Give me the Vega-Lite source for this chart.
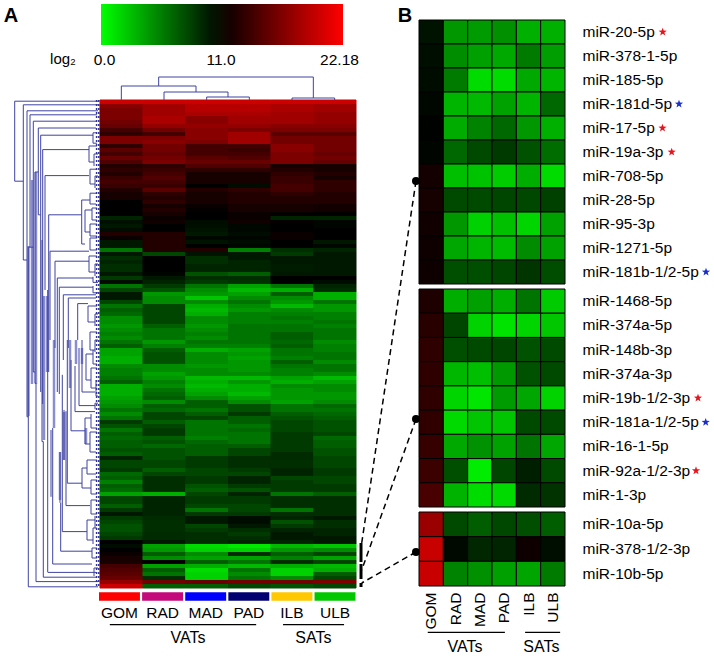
{"$schema":"https://vega.github.io/schema/vega-lite/v6.json","width":714,"height":657,"padding":0,"autosize":{"type":"none"},"background":"white","config":{"view":{"stroke":null},"font":"Liberation Sans","axis":{"grid":false,"domain":false,"ticks":false,"title":null,"labelFont":"Liberation Sans","labelColor":"#000"},"legend":{"labelFont":"Liberation Sans"},"text":{"font":"Liberation Sans"}},
"datasets":{
"heat":[
{"r":0,"t":"GOM","v":20},{"r":0,"t":"RAD","v":20},{"r":0,"t":"MAD","v":20},{"r":0,"t":"PAD","v":20},{"r":0,"t":"ILB","v":20},{"r":0,"t":"ULB","v":20},
{"r":1,"t":"GOM","v":17},{"r":1,"t":"RAD","v":18},{"r":1,"t":"MAD","v":19},{"r":1,"t":"PAD","v":19},{"r":1,"t":"ILB","v":18.5},{"r":1,"t":"ULB","v":18},
{"r":2,"t":"GOM","v":16.5},{"r":2,"t":"RAD","v":18},{"r":2,"t":"MAD","v":19},{"r":2,"t":"PAD","v":19},{"r":2,"t":"ILB","v":18.5},{"r":2,"t":"ULB","v":18},
{"r":3,"t":"GOM","v":16.5},{"r":3,"t":"RAD","v":18},{"r":3,"t":"MAD","v":18.5},{"r":3,"t":"PAD","v":18.5},{"r":3,"t":"ILB","v":18},{"r":3,"t":"ULB","v":17.5},
{"r":4,"t":"GOM","v":16.5},{"r":4,"t":"RAD","v":18.5},{"r":4,"t":"MAD","v":17},{"r":4,"t":"PAD","v":18},{"r":4,"t":"ILB","v":18},{"r":4,"t":"ULB","v":17.5},
{"r":5,"t":"GOM","v":16},{"r":5,"t":"RAD","v":18.5},{"r":5,"t":"MAD","v":17},{"r":5,"t":"PAD","v":18},{"r":5,"t":"ILB","v":18},{"r":5,"t":"ULB","v":17.5},
{"r":6,"t":"GOM","v":15.5},{"r":6,"t":"RAD","v":17.5},{"r":6,"t":"MAD","v":17.5},{"r":6,"t":"PAD","v":17.5},{"r":6,"t":"ILB","v":17},{"r":6,"t":"ULB","v":17},
{"r":7,"t":"GOM","v":14},{"r":7,"t":"RAD","v":16},{"r":7,"t":"MAD","v":17},{"r":7,"t":"PAD","v":16.5},{"r":7,"t":"ILB","v":16.5},{"r":7,"t":"ULB","v":16.5},
{"r":8,"t":"GOM","v":13},{"r":8,"t":"RAD","v":14},{"r":8,"t":"MAD","v":17},{"r":8,"t":"PAD","v":18},{"r":8,"t":"ILB","v":15},{"r":8,"t":"ULB","v":15},
{"r":9,"t":"GOM","v":16.5},{"r":9,"t":"RAD","v":16.5},{"r":9,"t":"MAD","v":17},{"r":9,"t":"PAD","v":18},{"r":9,"t":"ILB","v":16},{"r":9,"t":"ULB","v":16},
{"r":10,"t":"GOM","v":16.5},{"r":10,"t":"RAD","v":17},{"r":10,"t":"MAD","v":16.5},{"r":10,"t":"PAD","v":18},{"r":10,"t":"ILB","v":16},{"r":10,"t":"ULB","v":16},
{"r":11,"t":"GOM","v":13},{"r":11,"t":"RAD","v":16},{"r":11,"t":"MAD","v":14},{"r":11,"t":"PAD","v":14},{"r":11,"t":"ILB","v":17},{"r":11,"t":"ULB","v":16},
{"r":12,"t":"GOM","v":15},{"r":12,"t":"RAD","v":16},{"r":12,"t":"MAD","v":14},{"r":12,"t":"PAD","v":13.5},{"r":12,"t":"ILB","v":17},{"r":12,"t":"ULB","v":16},
{"r":13,"t":"GOM","v":14},{"r":13,"t":"RAD","v":15.5},{"r":13,"t":"MAD","v":14},{"r":13,"t":"PAD","v":14},{"r":13,"t":"ILB","v":16.5},{"r":13,"t":"ULB","v":15.5},
{"r":14,"t":"GOM","v":15.5},{"r":14,"t":"RAD","v":16},{"r":14,"t":"MAD","v":15},{"r":14,"t":"PAD","v":14.5},{"r":14,"t":"ILB","v":16.5},{"r":14,"t":"ULB","v":16},
{"r":15,"t":"GOM","v":14.5},{"r":15,"t":"RAD","v":16.5},{"r":15,"t":"MAD","v":15.5},{"r":15,"t":"PAD","v":15.5},{"r":15,"t":"ILB","v":16.5},{"r":15,"t":"ULB","v":15.5},
{"r":16,"t":"GOM","v":12.5},{"r":16,"t":"RAD","v":13},{"r":16,"t":"MAD","v":14.5},{"r":16,"t":"PAD","v":14.5},{"r":16,"t":"ILB","v":12},{"r":16,"t":"ULB","v":12},
{"r":17,"t":"GOM","v":13},{"r":17,"t":"RAD","v":13.5},{"r":17,"t":"MAD","v":13},{"r":17,"t":"PAD","v":13},{"r":17,"t":"ILB","v":12.5},{"r":17,"t":"ULB","v":12},
{"r":18,"t":"GOM","v":12.5},{"r":18,"t":"RAD","v":14},{"r":18,"t":"MAD","v":12},{"r":18,"t":"PAD","v":12},{"r":18,"t":"ILB","v":13},{"r":18,"t":"ULB","v":12.5},
{"r":19,"t":"GOM","v":13.5},{"r":19,"t":"RAD","v":14.5},{"r":19,"t":"MAD","v":12},{"r":19,"t":"PAD","v":12},{"r":19,"t":"ILB","v":13.5},{"r":19,"t":"ULB","v":12},
{"r":20,"t":"GOM","v":14},{"r":20,"t":"RAD","v":14},{"r":20,"t":"MAD","v":12},{"r":20,"t":"PAD","v":12},{"r":20,"t":"ILB","v":13.5},{"r":20,"t":"ULB","v":13},
{"r":21,"t":"GOM","v":13.5},{"r":21,"t":"RAD","v":13.5},{"r":21,"t":"MAD","v":11},{"r":21,"t":"PAD","v":10.5},{"r":21,"t":"ILB","v":14},{"r":21,"t":"ULB","v":13},
{"r":22,"t":"GOM","v":12.5},{"r":22,"t":"RAD","v":15},{"r":22,"t":"MAD","v":12.5},{"r":22,"t":"PAD","v":13},{"r":22,"t":"ILB","v":14},{"r":22,"t":"ULB","v":13},
{"r":23,"t":"GOM","v":12},{"r":23,"t":"RAD","v":13},{"r":23,"t":"MAD","v":12},{"r":23,"t":"PAD","v":12.5},{"r":23,"t":"ILB","v":13},{"r":23,"t":"ULB","v":12.5},
{"r":24,"t":"GOM","v":12},{"r":24,"t":"RAD","v":12.5},{"r":24,"t":"MAD","v":12},{"r":24,"t":"PAD","v":12.5},{"r":24,"t":"ILB","v":12.5},{"r":24,"t":"ULB","v":12.5},
{"r":25,"t":"GOM","v":11},{"r":25,"t":"RAD","v":13},{"r":25,"t":"MAD","v":12},{"r":25,"t":"PAD","v":12.5},{"r":25,"t":"ILB","v":12.5},{"r":25,"t":"ULB","v":12.5},
{"r":26,"t":"GOM","v":11},{"r":26,"t":"RAD","v":12},{"r":26,"t":"MAD","v":11.5},{"r":26,"t":"PAD","v":12},{"r":26,"t":"ILB","v":12},{"r":26,"t":"ULB","v":11.8},
{"r":27,"t":"GOM","v":11},{"r":27,"t":"RAD","v":12.5},{"r":27,"t":"MAD","v":11.2},{"r":27,"t":"PAD","v":12},{"r":27,"t":"ILB","v":12},{"r":27,"t":"ULB","v":11.8},
{"r":28,"t":"GOM","v":11},{"r":28,"t":"RAD","v":12},{"r":28,"t":"MAD","v":11},{"r":28,"t":"PAD","v":11.5},{"r":28,"t":"ILB","v":11.2},{"r":28,"t":"ULB","v":11},
{"r":29,"t":"GOM","v":9.5},{"r":29,"t":"RAD","v":11.5},{"r":29,"t":"MAD","v":11},{"r":29,"t":"PAD","v":11.5},{"r":29,"t":"ILB","v":9.5},{"r":29,"t":"ULB","v":9.5},
{"r":30,"t":"GOM","v":10.3},{"r":30,"t":"RAD","v":11.7},{"r":30,"t":"MAD","v":10.5},{"r":30,"t":"PAD","v":11.7},{"r":30,"t":"ILB","v":11.2},{"r":30,"t":"ULB","v":10.8},
{"r":31,"t":"GOM","v":10},{"r":31,"t":"RAD","v":11},{"r":31,"t":"MAD","v":10.4},{"r":31,"t":"PAD","v":10.7},{"r":31,"t":"ILB","v":11},{"r":31,"t":"ULB","v":10.8},
{"r":32,"t":"GOM","v":10.5},{"r":32,"t":"RAD","v":11},{"r":32,"t":"MAD","v":10.2},{"r":32,"t":"PAD","v":10.7},{"r":32,"t":"ILB","v":11},{"r":32,"t":"ULB","v":11},
{"r":33,"t":"GOM","v":12.5},{"r":33,"t":"RAD","v":12.5},{"r":33,"t":"MAD","v":10},{"r":33,"t":"PAD","v":10.5},{"r":33,"t":"ILB","v":11.5},{"r":33,"t":"ULB","v":11},
{"r":34,"t":"GOM","v":11.5},{"r":34,"t":"RAD","v":12.5},{"r":34,"t":"MAD","v":10.7},{"r":34,"t":"PAD","v":10.8},{"r":34,"t":"ILB","v":11.5},{"r":34,"t":"ULB","v":11},
{"r":35,"t":"GOM","v":10},{"r":35,"t":"RAD","v":12.5},{"r":35,"t":"MAD","v":10.2},{"r":35,"t":"PAD","v":10.5},{"r":35,"t":"ILB","v":11},{"r":35,"t":"ULB","v":10},
{"r":36,"t":"GOM","v":10},{"r":36,"t":"RAD","v":12.5},{"r":36,"t":"MAD","v":11},{"r":36,"t":"PAD","v":10.7},{"r":36,"t":"ILB","v":11},{"r":36,"t":"ULB","v":10.7},
{"r":37,"t":"GOM","v":6},{"r":37,"t":"RAD","v":12.5},{"r":37,"t":"MAD","v":12.5},{"r":37,"t":"PAD","v":5.5},{"r":37,"t":"ILB","v":9},{"r":37,"t":"ULB","v":9.5},
{"r":38,"t":"GOM","v":10},{"r":38,"t":"RAD","v":8},{"r":38,"t":"MAD","v":10.2},{"r":38,"t":"PAD","v":10},{"r":38,"t":"ILB","v":8.5},{"r":38,"t":"ULB","v":10},
{"r":39,"t":"GOM","v":9},{"r":39,"t":"RAD","v":11},{"r":39,"t":"MAD","v":9},{"r":39,"t":"PAD","v":10},{"r":39,"t":"ILB","v":10},{"r":39,"t":"ULB","v":10},
{"r":40,"t":"GOM","v":9.5},{"r":40,"t":"RAD","v":11},{"r":40,"t":"MAD","v":9},{"r":40,"t":"PAD","v":9.5},{"r":40,"t":"ILB","v":10},{"r":40,"t":"ULB","v":10},
{"r":41,"t":"GOM","v":9},{"r":41,"t":"RAD","v":11},{"r":41,"t":"MAD","v":9.5},{"r":41,"t":"PAD","v":9.5},{"r":41,"t":"ILB","v":9.8},{"r":41,"t":"ULB","v":10},
{"r":42,"t":"GOM","v":9},{"r":42,"t":"RAD","v":11},{"r":42,"t":"MAD","v":9.5},{"r":42,"t":"PAD","v":9.5},{"r":42,"t":"ILB","v":9.8},{"r":42,"t":"ULB","v":10},
{"r":43,"t":"GOM","v":10},{"r":43,"t":"RAD","v":10.8},{"r":43,"t":"MAD","v":7.5},{"r":43,"t":"PAD","v":7},{"r":43,"t":"ILB","v":10},{"r":43,"t":"ULB","v":10},
{"r":44,"t":"GOM","v":8.5},{"r":44,"t":"RAD","v":10},{"r":44,"t":"MAD","v":9},{"r":44,"t":"PAD","v":9},{"r":44,"t":"ILB","v":11},{"r":44,"t":"ULB","v":11},
{"r":45,"t":"GOM","v":10.5},{"r":45,"t":"RAD","v":9.5},{"r":45,"t":"MAD","v":8.5},{"r":45,"t":"PAD","v":8.8},{"r":45,"t":"ILB","v":11},{"r":45,"t":"ULB","v":10.5},
{"r":46,"t":"GOM","v":6},{"r":46,"t":"RAD","v":8.5},{"r":46,"t":"MAD","v":6},{"r":46,"t":"PAD","v":4},{"r":46,"t":"ILB","v":6},{"r":46,"t":"ULB","v":9.5},
{"r":47,"t":"GOM","v":8},{"r":47,"t":"RAD","v":7.5},{"r":47,"t":"MAD","v":5},{"r":47,"t":"PAD","v":3},{"r":47,"t":"ILB","v":3.5},{"r":47,"t":"ULB","v":9.2},
{"r":48,"t":"GOM","v":10},{"r":48,"t":"RAD","v":4.5},{"r":48,"t":"MAD","v":4.5},{"r":48,"t":"PAD","v":4},{"r":48,"t":"ILB","v":7},{"r":48,"t":"ULB","v":3.5},
{"r":49,"t":"GOM","v":10},{"r":49,"t":"RAD","v":5},{"r":49,"t":"MAD","v":2.5},{"r":49,"t":"PAD","v":5},{"r":49,"t":"ILB","v":5},{"r":49,"t":"ULB","v":3.5},
{"r":50,"t":"GOM","v":8},{"r":50,"t":"RAD","v":5},{"r":50,"t":"MAD","v":5},{"r":50,"t":"PAD","v":6},{"r":50,"t":"ILB","v":4.5},{"r":50,"t":"ULB","v":6},
{"r":51,"t":"GOM","v":6},{"r":51,"t":"RAD","v":8},{"r":51,"t":"MAD","v":3.5},{"r":51,"t":"PAD","v":5},{"r":51,"t":"ILB","v":3},{"r":51,"t":"ULB","v":4.5},
{"r":52,"t":"GOM","v":7},{"r":52,"t":"RAD","v":8},{"r":52,"t":"MAD","v":3},{"r":52,"t":"PAD","v":4.5},{"r":52,"t":"ILB","v":5},{"r":52,"t":"ULB","v":4.5},
{"r":53,"t":"GOM","v":6.5},{"r":53,"t":"RAD","v":8},{"r":53,"t":"MAD","v":3.5},{"r":53,"t":"PAD","v":5.5},{"r":53,"t":"ILB","v":5.5},{"r":53,"t":"ULB","v":5.5},
{"r":54,"t":"GOM","v":5},{"r":54,"t":"RAD","v":8},{"r":54,"t":"MAD","v":5},{"r":54,"t":"PAD","v":5.5},{"r":54,"t":"ILB","v":6},{"r":54,"t":"ULB","v":5.5},
{"r":55,"t":"GOM","v":5},{"r":55,"t":"RAD","v":8},{"r":55,"t":"MAD","v":5},{"r":55,"t":"PAD","v":5.5},{"r":55,"t":"ILB","v":5.5},{"r":55,"t":"ULB","v":6},
{"r":56,"t":"GOM","v":4.5},{"r":56,"t":"RAD","v":7},{"r":56,"t":"MAD","v":4.5},{"r":56,"t":"PAD","v":6},{"r":56,"t":"ILB","v":6},{"r":56,"t":"ULB","v":5.5},
{"r":57,"t":"GOM","v":5},{"r":57,"t":"RAD","v":6},{"r":57,"t":"MAD","v":5},{"r":57,"t":"PAD","v":6},{"r":57,"t":"ILB","v":6},{"r":57,"t":"ULB","v":6},
{"r":58,"t":"GOM","v":5.5},{"r":58,"t":"RAD","v":6},{"r":58,"t":"MAD","v":5.5},{"r":58,"t":"PAD","v":6},{"r":58,"t":"ILB","v":7},{"r":58,"t":"ULB","v":6},
{"r":59,"t":"GOM","v":5},{"r":59,"t":"RAD","v":6},{"r":59,"t":"MAD","v":5},{"r":59,"t":"PAD","v":6},{"r":59,"t":"ILB","v":7},{"r":59,"t":"ULB","v":6},
{"r":60,"t":"GOM","v":6},{"r":60,"t":"RAD","v":4.5},{"r":60,"t":"MAD","v":6},{"r":60,"t":"PAD","v":6},{"r":60,"t":"ILB","v":6.5},{"r":60,"t":"ULB","v":5},
{"r":61,"t":"GOM","v":7},{"r":61,"t":"RAD","v":5.5},{"r":61,"t":"MAD","v":5.5},{"r":61,"t":"PAD","v":5.5},{"r":61,"t":"ILB","v":7},{"r":61,"t":"ULB","v":5.5},
{"r":62,"t":"GOM","v":4},{"r":62,"t":"RAD","v":7},{"r":62,"t":"MAD","v":3.5},{"r":62,"t":"PAD","v":4},{"r":62,"t":"ILB","v":6},{"r":62,"t":"ULB","v":5.5},
{"r":63,"t":"GOM","v":4},{"r":63,"t":"RAD","v":7.5},{"r":63,"t":"MAD","v":5},{"r":63,"t":"PAD","v":4.5},{"r":63,"t":"ILB","v":6},{"r":63,"t":"ULB","v":6},
{"r":64,"t":"GOM","v":3.5},{"r":64,"t":"RAD","v":7.5},{"r":64,"t":"MAD","v":5},{"r":64,"t":"PAD","v":4},{"r":64,"t":"ILB","v":5.5},{"r":64,"t":"ULB","v":6},
{"r":65,"t":"GOM","v":3.5},{"r":65,"t":"RAD","v":7.5},{"r":65,"t":"MAD","v":5},{"r":65,"t":"PAD","v":4.5},{"r":65,"t":"ILB","v":7},{"r":65,"t":"ULB","v":5},
{"r":66,"t":"GOM","v":5},{"r":66,"t":"RAD","v":5},{"r":66,"t":"MAD","v":4.5},{"r":66,"t":"PAD","v":4.5},{"r":66,"t":"ILB","v":6},{"r":66,"t":"ULB","v":6},
{"r":67,"t":"GOM","v":5.5},{"r":67,"t":"RAD","v":5},{"r":67,"t":"MAD","v":5},{"r":67,"t":"PAD","v":4.5},{"r":67,"t":"ILB","v":5.5},{"r":67,"t":"ULB","v":6},
{"r":68,"t":"GOM","v":5.5},{"r":68,"t":"RAD","v":4},{"r":68,"t":"MAD","v":5},{"r":68,"t":"PAD","v":5},{"r":68,"t":"ILB","v":5.5},{"r":68,"t":"ULB","v":5},
{"r":69,"t":"GOM","v":6},{"r":69,"t":"RAD","v":4.5},{"r":69,"t":"MAD","v":3},{"r":69,"t":"PAD","v":3},{"r":69,"t":"ILB","v":4},{"r":69,"t":"ULB","v":3},
{"r":70,"t":"GOM","v":7},{"r":70,"t":"RAD","v":5.5},{"r":70,"t":"MAD","v":3.5},{"r":70,"t":"PAD","v":4.5},{"r":70,"t":"ILB","v":3.5},{"r":70,"t":"ULB","v":4},
{"r":71,"t":"GOM","v":3.5},{"r":71,"t":"RAD","v":5},{"r":71,"t":"MAD","v":3},{"r":71,"t":"PAD","v":3.5},{"r":71,"t":"ILB","v":5},{"r":71,"t":"ULB","v":5},
{"r":72,"t":"GOM","v":3.5},{"r":72,"t":"RAD","v":6},{"r":72,"t":"MAD","v":3.5},{"r":72,"t":"PAD","v":3.5},{"r":72,"t":"ILB","v":4.5},{"r":72,"t":"ULB","v":5},
{"r":73,"t":"GOM","v":3.5},{"r":73,"t":"RAD","v":6.5},{"r":73,"t":"MAD","v":4},{"r":73,"t":"PAD","v":3},{"r":73,"t":"ILB","v":4.5},{"r":73,"t":"ULB","v":4.5},
{"r":74,"t":"GOM","v":4},{"r":74,"t":"RAD","v":7},{"r":74,"t":"MAD","v":5},{"r":74,"t":"PAD","v":4},{"r":74,"t":"ILB","v":4.5},{"r":74,"t":"ULB","v":4.5},
{"r":75,"t":"GOM","v":4.5},{"r":75,"t":"RAD","v":5},{"r":75,"t":"MAD","v":7},{"r":75,"t":"PAD","v":5},{"r":75,"t":"ILB","v":4},{"r":75,"t":"ULB","v":5},
{"r":76,"t":"GOM","v":5},{"r":76,"t":"RAD","v":7},{"r":76,"t":"MAD","v":7},{"r":76,"t":"PAD","v":7.5},{"r":76,"t":"ILB","v":6},{"r":76,"t":"ULB","v":6.5},
{"r":77,"t":"GOM","v":6},{"r":77,"t":"RAD","v":6.5},{"r":77,"t":"MAD","v":6},{"r":77,"t":"PAD","v":7.5},{"r":77,"t":"ILB","v":6},{"r":77,"t":"ULB","v":6},
{"r":78,"t":"GOM","v":5},{"r":78,"t":"RAD","v":8},{"r":78,"t":"MAD","v":7},{"r":78,"t":"PAD","v":8.5},{"r":78,"t":"ILB","v":7},{"r":78,"t":"ULB","v":6.5},
{"r":79,"t":"GOM","v":6},{"r":79,"t":"RAD","v":8},{"r":79,"t":"MAD","v":8},{"r":79,"t":"PAD","v":7},{"r":79,"t":"ILB","v":7.5},{"r":79,"t":"ULB","v":7},
{"r":80,"t":"GOM","v":8.5},{"r":80,"t":"RAD","v":7},{"r":80,"t":"MAD","v":6},{"r":80,"t":"PAD","v":7},{"r":80,"t":"ILB","v":8},{"r":80,"t":"ULB","v":7.5},
{"r":81,"t":"GOM","v":7.5},{"r":81,"t":"RAD","v":8},{"r":81,"t":"MAD","v":6},{"r":81,"t":"PAD","v":6},{"r":81,"t":"ILB","v":8},{"r":81,"t":"ULB","v":7.5},
{"r":82,"t":"GOM","v":6},{"r":82,"t":"RAD","v":8.5},{"r":82,"t":"MAD","v":6},{"r":82,"t":"PAD","v":6.5},{"r":82,"t":"ILB","v":8},{"r":82,"t":"ULB","v":7.5},
{"r":83,"t":"GOM","v":7},{"r":83,"t":"RAD","v":8.5},{"r":83,"t":"MAD","v":6},{"r":83,"t":"PAD","v":6},{"r":83,"t":"ILB","v":8.5},{"r":83,"t":"ULB","v":8},
{"r":84,"t":"GOM","v":6.5},{"r":84,"t":"RAD","v":7},{"r":84,"t":"MAD","v":5.5},{"r":84,"t":"PAD","v":6},{"r":84,"t":"ILB","v":8.5},{"r":84,"t":"ULB","v":6.5},
{"r":85,"t":"GOM","v":7},{"r":85,"t":"RAD","v":7.5},{"r":85,"t":"MAD","v":6.5},{"r":85,"t":"PAD","v":6},{"r":85,"t":"ILB","v":8.5},{"r":85,"t":"ULB","v":7},
{"r":86,"t":"GOM","v":7},{"r":86,"t":"RAD","v":6.5},{"r":86,"t":"MAD","v":7},{"r":86,"t":"PAD","v":7},{"r":86,"t":"ILB","v":8.5},{"r":86,"t":"ULB","v":7},
{"r":87,"t":"GOM","v":7.5},{"r":87,"t":"RAD","v":7.5},{"r":87,"t":"MAD","v":7},{"r":87,"t":"PAD","v":8},{"r":87,"t":"ILB","v":8.5},{"r":87,"t":"ULB","v":7.5},
{"r":88,"t":"GOM","v":7},{"r":88,"t":"RAD","v":7.5},{"r":88,"t":"MAD","v":7},{"r":88,"t":"PAD","v":8},{"r":88,"t":"ILB","v":9.2},{"r":88,"t":"ULB","v":7.5},
{"r":89,"t":"GOM","v":9.5},{"r":89,"t":"RAD","v":7.5},{"r":89,"t":"MAD","v":8.5},{"r":89,"t":"PAD","v":9},{"r":89,"t":"ILB","v":9.2},{"r":89,"t":"ULB","v":8},
{"r":90,"t":"GOM","v":8},{"r":90,"t":"RAD","v":8},{"r":90,"t":"MAD","v":8.5},{"r":90,"t":"PAD","v":9},{"r":90,"t":"ILB","v":9},{"r":90,"t":"ULB","v":8},
{"r":91,"t":"GOM","v":8},{"r":91,"t":"RAD","v":8},{"r":91,"t":"MAD","v":8.5},{"r":91,"t":"PAD","v":9},{"r":91,"t":"ILB","v":9},{"r":91,"t":"ULB","v":8},
{"r":92,"t":"GOM","v":8.5},{"r":92,"t":"RAD","v":7},{"r":92,"t":"MAD","v":8},{"r":92,"t":"PAD","v":8.5},{"r":92,"t":"ILB","v":9.5},{"r":92,"t":"ULB","v":8.5},
{"r":93,"t":"GOM","v":6.5},{"r":93,"t":"RAD","v":8},{"r":93,"t":"MAD","v":8},{"r":93,"t":"PAD","v":8},{"r":93,"t":"ILB","v":9.5},{"r":93,"t":"ULB","v":8.5},
{"r":94,"t":"GOM","v":7},{"r":94,"t":"RAD","v":9},{"r":94,"t":"MAD","v":8.5},{"r":94,"t":"PAD","v":9.5},{"r":94,"t":"ILB","v":8},{"r":94,"t":"ULB","v":8},
{"r":95,"t":"GOM","v":5.5},{"r":95,"t":"RAD","v":9},{"r":95,"t":"MAD","v":8.5},{"r":95,"t":"PAD","v":9.5},{"r":95,"t":"ILB","v":8.5},{"r":95,"t":"ULB","v":8},
{"r":96,"t":"GOM","v":7},{"r":96,"t":"RAD","v":9},{"r":96,"t":"MAD","v":7.5},{"r":96,"t":"PAD","v":8.5},{"r":96,"t":"ILB","v":8.5},{"r":96,"t":"ULB","v":8.5},
{"r":97,"t":"GOM","v":6.5},{"r":97,"t":"RAD","v":9},{"r":97,"t":"MAD","v":7},{"r":97,"t":"PAD","v":7.5},{"r":97,"t":"ILB","v":8.5},{"r":97,"t":"ULB","v":8.5},
{"r":98,"t":"GOM","v":4},{"r":98,"t":"RAD","v":3.5},{"r":98,"t":"MAD","v":8},{"r":98,"t":"PAD","v":9.5},{"r":98,"t":"ILB","v":6},{"r":98,"t":"ULB","v":7},
{"r":99,"t":"GOM","v":8},{"r":99,"t":"RAD","v":9.5},{"r":99,"t":"MAD","v":8.5},{"r":99,"t":"PAD","v":8.5},{"r":99,"t":"ILB","v":9},{"r":99,"t":"ULB","v":9},
{"r":100,"t":"GOM","v":8},{"r":100,"t":"RAD","v":9.5},{"r":100,"t":"MAD","v":8.5},{"r":100,"t":"PAD","v":8.5},{"r":100,"t":"ILB","v":9},{"r":100,"t":"ULB","v":9},
{"r":101,"t":"GOM","v":7},{"r":101,"t":"RAD","v":9.5},{"r":101,"t":"MAD","v":8},{"r":101,"t":"PAD","v":8},{"r":101,"t":"ILB","v":9},{"r":101,"t":"ULB","v":9},
{"r":102,"t":"GOM","v":8.5},{"r":102,"t":"RAD","v":9.5},{"r":102,"t":"MAD","v":6},{"r":102,"t":"PAD","v":8},{"r":102,"t":"ILB","v":6},{"r":102,"t":"ULB","v":9},
{"r":103,"t":"GOM","v":10},{"r":103,"t":"RAD","v":9.5},{"r":103,"t":"MAD","v":8.5},{"r":103,"t":"PAD","v":8.5},{"r":103,"t":"ILB","v":9},{"r":103,"t":"ULB","v":9},
{"r":104,"t":"GOM","v":8.5},{"r":104,"t":"RAD","v":9.2},{"r":104,"t":"MAD","v":10},{"r":104,"t":"PAD","v":10.5},{"r":104,"t":"ILB","v":9.5},{"r":104,"t":"ULB","v":10},
{"r":105,"t":"GOM","v":8},{"r":105,"t":"RAD","v":9},{"r":105,"t":"MAD","v":10},{"r":105,"t":"PAD","v":10.5},{"r":105,"t":"ILB","v":7.5},{"r":105,"t":"ULB","v":9},
{"r":106,"t":"GOM","v":7.5},{"r":106,"t":"RAD","v":9},{"r":106,"t":"MAD","v":8},{"r":106,"t":"PAD","v":10},{"r":106,"t":"ILB","v":8.5},{"r":106,"t":"ULB","v":9},
{"r":107,"t":"GOM","v":7.5},{"r":107,"t":"RAD","v":9},{"r":107,"t":"MAD","v":8.5},{"r":107,"t":"PAD","v":9},{"r":107,"t":"ILB","v":9.5},{"r":107,"t":"ULB","v":9.5},
{"r":108,"t":"GOM","v":8},{"r":108,"t":"RAD","v":9.2},{"r":108,"t":"MAD","v":9},{"r":108,"t":"PAD","v":8.5},{"r":108,"t":"ILB","v":10},{"r":108,"t":"ULB","v":9.5},
{"r":109,"t":"GOM","v":8.5},{"r":109,"t":"RAD","v":9.2},{"r":109,"t":"MAD","v":9},{"r":109,"t":"PAD","v":9},{"r":109,"t":"ILB","v":10},{"r":109,"t":"ULB","v":10},
{"r":110,"t":"GOM","v":11},{"r":110,"t":"RAD","v":10},{"r":110,"t":"MAD","v":9},{"r":110,"t":"PAD","v":9.5},{"r":110,"t":"ILB","v":9.5},{"r":110,"t":"ULB","v":10},
{"r":111,"t":"GOM","v":10.5},{"r":111,"t":"RAD","v":4},{"r":111,"t":"MAD","v":1.5},{"r":111,"t":"PAD","v":1},{"r":111,"t":"ILB","v":3},{"r":111,"t":"ULB","v":2.5},
{"r":112,"t":"GOM","v":11},{"r":112,"t":"RAD","v":4.5},{"r":112,"t":"MAD","v":2},{"r":112,"t":"PAD","v":2},{"r":112,"t":"ILB","v":4.5},{"r":112,"t":"ULB","v":5},
{"r":113,"t":"GOM","v":11.5},{"r":113,"t":"RAD","v":7},{"r":113,"t":"MAD","v":5},{"r":113,"t":"PAD","v":9},{"r":113,"t":"ILB","v":7},{"r":113,"t":"ULB","v":8},
{"r":114,"t":"GOM","v":12},{"r":114,"t":"RAD","v":5},{"r":114,"t":"MAD","v":4},{"r":114,"t":"PAD","v":4},{"r":114,"t":"ILB","v":5.5},{"r":114,"t":"ULB","v":4},
{"r":115,"t":"GOM","v":12},{"r":115,"t":"RAD","v":11},{"r":115,"t":"MAD","v":7},{"r":115,"t":"PAD","v":6},{"r":115,"t":"ILB","v":9},{"r":115,"t":"ULB","v":8},
{"r":116,"t":"GOM","v":14},{"r":116,"t":"RAD","v":4},{"r":116,"t":"MAD","v":3.5},{"r":116,"t":"PAD","v":3},{"r":116,"t":"ILB","v":3.5},{"r":116,"t":"ULB","v":3},
{"r":117,"t":"GOM","v":14.5},{"r":117,"t":"RAD","v":7},{"r":117,"t":"MAD","v":1.5},{"r":117,"t":"PAD","v":6},{"r":117,"t":"ILB","v":2},{"r":117,"t":"ULB","v":3.5},
{"r":118,"t":"GOM","v":15},{"r":118,"t":"RAD","v":6},{"r":118,"t":"MAD","v":2},{"r":118,"t":"PAD","v":5},{"r":118,"t":"ILB","v":2},{"r":118,"t":"ULB","v":7},
{"r":119,"t":"GOM","v":15.5},{"r":119,"t":"RAD","v":9},{"r":119,"t":"MAD","v":2},{"r":119,"t":"PAD","v":6},{"r":119,"t":"ILB","v":5},{"r":119,"t":"ULB","v":8},
{"r":120,"t":"GOM","v":17.5},{"r":120,"t":"RAD","v":16},{"r":120,"t":"MAD","v":15.5},{"r":120,"t":"PAD","v":16},{"r":120,"t":"ILB","v":16},{"r":120,"t":"ULB","v":16.5},
{"r":121,"t":"GOM","v":20},{"r":121,"t":"RAD","v":7},{"r":121,"t":"MAD","v":7},{"r":121,"t":"PAD","v":8},{"r":121,"t":"ILB","v":7.5},{"r":121,"t":"ULB","v":8}
],
"b1":[
{"m":"miR-20-5p","t":"GOM","v":10.2},{"m":"miR-20-5p","t":"RAD","v":4.5},{"m":"miR-20-5p","t":"MAD","v":4.3},{"m":"miR-20-5p","t":"PAD","v":4.8},{"m":"miR-20-5p","t":"ILB","v":3.4},{"m":"miR-20-5p","t":"ULB","v":3.4},
{"m":"miR-378-1-5p","t":"GOM","v":10.4},{"m":"miR-378-1-5p","t":"RAD","v":4.9},{"m":"miR-378-1-5p","t":"MAD","v":4.1},{"m":"miR-378-1-5p","t":"PAD","v":3.7},{"m":"miR-378-1-5p","t":"ILB","v":5.7},{"m":"miR-378-1-5p","t":"ULB","v":4.2},
{"m":"miR-185-5p","t":"GOM","v":10.5},{"m":"miR-185-5p","t":"RAD","v":5.7},{"m":"miR-185-5p","t":"MAD","v":1.5},{"m":"miR-185-5p","t":"PAD","v":1.5},{"m":"miR-185-5p","t":"ILB","v":3.7},{"m":"miR-185-5p","t":"ULB","v":3.2},
{"m":"miR-181d-5p","t":"GOM","v":10.7},{"m":"miR-181d-5p","t":"RAD","v":3.2},{"m":"miR-181d-5p","t":"MAD","v":3},{"m":"miR-181d-5p","t":"PAD","v":4},{"m":"miR-181d-5p","t":"ILB","v":3.2},{"m":"miR-181d-5p","t":"ULB","v":6.5},
{"m":"miR-17-5p","t":"GOM","v":10.9},{"m":"miR-17-5p","t":"RAD","v":3.6},{"m":"miR-17-5p","t":"MAD","v":5.3},{"m":"miR-17-5p","t":"PAD","v":6.5},{"m":"miR-17-5p","t":"ILB","v":4.5},{"m":"miR-17-5p","t":"ULB","v":3.4},
{"m":"miR-19a-3p","t":"GOM","v":10.8},{"m":"miR-19a-3p","t":"RAD","v":6.5},{"m":"miR-19a-3p","t":"MAD","v":7.8},{"m":"miR-19a-3p","t":"PAD","v":8.5},{"m":"miR-19a-3p","t":"ILB","v":7.5},{"m":"miR-19a-3p","t":"ULB","v":6.3},
{"m":"miR-708-5p","t":"GOM","v":11.9},{"m":"miR-708-5p","t":"RAD","v":2.8},{"m":"miR-708-5p","t":"MAD","v":2.6},{"m":"miR-708-5p","t":"PAD","v":2.2},{"m":"miR-708-5p","t":"ILB","v":3.5},{"m":"miR-708-5p","t":"ULB","v":1.5},
{"m":"miR-28-5p","t":"GOM","v":12},{"m":"miR-28-5p","t":"RAD","v":7.8},{"m":"miR-28-5p","t":"MAD","v":7.8},{"m":"miR-28-5p","t":"PAD","v":8},{"m":"miR-28-5p","t":"ILB","v":7.9},{"m":"miR-28-5p","t":"ULB","v":8.2},
{"m":"miR-95-3p","t":"GOM","v":11.7},{"m":"miR-95-3p","t":"RAD","v":4.5},{"m":"miR-95-3p","t":"MAD","v":2},{"m":"miR-95-3p","t":"PAD","v":2.7},{"m":"miR-95-3p","t":"ILB","v":1.8},{"m":"miR-95-3p","t":"ULB","v":4},
{"m":"miR-1271-5p","t":"GOM","v":11.6},{"m":"miR-1271-5p","t":"RAD","v":3.8},{"m":"miR-1271-5p","t":"MAD","v":3.2},{"m":"miR-1271-5p","t":"PAD","v":2.9},{"m":"miR-1271-5p","t":"ILB","v":5},{"m":"miR-1271-5p","t":"ULB","v":4},
{"m":"miR-181b-1/2-5p","t":"GOM","v":11.6},{"m":"miR-181b-1/2-5p","t":"RAD","v":7.6},{"m":"miR-181b-1/2-5p","t":"MAD","v":7.6},{"m":"miR-181b-1/2-5p","t":"PAD","v":8},{"m":"miR-181b-1/2-5p","t":"ILB","v":8.7},{"m":"miR-181b-1/2-5p","t":"ULB","v":7.7}
],
"b2":[
{"m":"miR-1468-5p","t":"GOM","v":12.3},{"m":"miR-1468-5p","t":"RAD","v":3.5},{"m":"miR-1468-5p","t":"MAD","v":4.1},{"m":"miR-1468-5p","t":"PAD","v":3.5},{"m":"miR-1468-5p","t":"ILB","v":6},{"m":"miR-1468-5p","t":"ULB","v":2.3},
{"m":"miR-374a-5p","t":"GOM","v":12.8},{"m":"miR-374a-5p","t":"RAD","v":8},{"m":"miR-374a-5p","t":"MAD","v":1.9},{"m":"miR-374a-5p","t":"PAD","v":1.2},{"m":"miR-374a-5p","t":"ILB","v":1.8},{"m":"miR-374a-5p","t":"ULB","v":2.4},
{"m":"miR-148b-3p","t":"GOM","v":13},{"m":"miR-148b-3p","t":"RAD","v":7.6},{"m":"miR-148b-3p","t":"MAD","v":7.8},{"m":"miR-148b-3p","t":"PAD","v":8},{"m":"miR-148b-3p","t":"ILB","v":7.5},{"m":"miR-148b-3p","t":"ULB","v":7.8},
{"m":"miR-374a-3p","t":"GOM","v":13},{"m":"miR-374a-3p","t":"RAD","v":3.1},{"m":"miR-374a-3p","t":"MAD","v":2.8},{"m":"miR-374a-3p","t":"PAD","v":4.4},{"m":"miR-374a-3p","t":"ILB","v":7.5},{"m":"miR-374a-3p","t":"ULB","v":7.8},
{"m":"miR-19b-1/2-3p","t":"GOM","v":13},{"m":"miR-19b-1/2-3p","t":"RAD","v":1.8},{"m":"miR-19b-1/2-3p","t":"MAD","v":1.1},{"m":"miR-19b-1/2-3p","t":"PAD","v":4.3},{"m":"miR-19b-1/2-3p","t":"ILB","v":3.8},{"m":"miR-19b-1/2-3p","t":"ULB","v":1.9},
{"m":"miR-181a-1/2-5p","t":"GOM","v":13.1},{"m":"miR-181a-1/2-5p","t":"RAD","v":1.6},{"m":"miR-181a-1/2-5p","t":"MAD","v":2.5},{"m":"miR-181a-1/2-5p","t":"PAD","v":2.5},{"m":"miR-181a-1/2-5p","t":"ILB","v":7.8},{"m":"miR-181a-1/2-5p","t":"ULB","v":7.8},
{"m":"miR-16-1-5p","t":"GOM","v":13.4},{"m":"miR-16-1-5p","t":"RAD","v":3.7},{"m":"miR-16-1-5p","t":"MAD","v":4.7},{"m":"miR-16-1-5p","t":"PAD","v":4},{"m":"miR-16-1-5p","t":"ILB","v":6},{"m":"miR-16-1-5p","t":"ULB","v":3.8},
{"m":"miR-92a-1/2-3p","t":"GOM","v":13.6},{"m":"miR-92a-1/2-3p","t":"RAD","v":7.6},{"m":"miR-92a-1/2-3p","t":"MAD","v":0.8},{"m":"miR-92a-1/2-3p","t":"PAD","v":8},{"m":"miR-92a-1/2-3p","t":"ILB","v":9.7},{"m":"miR-92a-1/2-3p","t":"ULB","v":7.8},
{"m":"miR-1-3p","t":"GOM","v":14.2},{"m":"miR-1-3p","t":"RAD","v":3.3},{"m":"miR-1-3p","t":"MAD","v":1.5},{"m":"miR-1-3p","t":"PAD","v":1.6},{"m":"miR-1-3p","t":"ILB","v":9.2},{"m":"miR-1-3p","t":"ULB","v":8.8}
],
"b3":[
{"m":"miR-10a-5p","t":"GOM","v":17.8},{"m":"miR-10a-5p","t":"RAD","v":7.8},{"m":"miR-10a-5p","t":"MAD","v":7},{"m":"miR-10a-5p","t":"PAD","v":7.9},{"m":"miR-10a-5p","t":"ILB","v":7.6},{"m":"miR-10a-5p","t":"ULB","v":7},
{"m":"miR-378-1/2-3p","t":"GOM","v":19.8},{"m":"miR-378-1/2-3p","t":"RAD","v":10.6},{"m":"miR-378-1/2-3p","t":"MAD","v":9.3},{"m":"miR-378-1/2-3p","t":"PAD","v":9.4},{"m":"miR-378-1/2-3p","t":"ILB","v":11.6},{"m":"miR-378-1/2-3p","t":"ULB","v":10.4},
{"m":"miR-10b-5p","t":"GOM","v":19.8},{"m":"miR-10b-5p","t":"RAD","v":5.3},{"m":"miR-10b-5p","t":"MAD","v":4.8},{"m":"miR-10b-5p","t":"PAD","v":4.1},{"m":"miR-10b-5p","t":"ILB","v":3.9},{"m":"miR-10b-5p","t":"ULB","v":5.7}
],
"star1":[{"m":"miR-20-5p","c":"red","sx":662.7},{"m":"miR-181d-5p","c":"blue","sx":679},{"m":"miR-17-5p","c":"red","sx":662.5},{"m":"miR-19a-3p","c":"red","sx":671.7},{"m":"miR-181b-1/2-5p","c":"blue","sx":706}],
"star2":[{"m":"miR-19b-1/2-3p","c":"red","sx":698},{"m":"miR-181a-1/2-5p","c":"blue","sx":705.7},{"m":"miR-92a-1/2-3p","c":"red","sx":696}],
"tissues":[{"t":"GOM"},{"t":"RAD"},{"t":"MAD"},{"t":"PAD"},{"t":"ILB"},{"t":"ULB"}],
"scaleLabels":[{"v":0,"txt":"0.0"},{"v":11,"txt":"11.0"},{"v":22.18,"txt":"22.18"}],
"coltree":[
{"a":1.375,"b":5,"p":23,"q":23},{"a":1.375,"b":1.375,"p":23,"q":14},{"a":5,"b":5,"p":23,"q":2},
{"a":0.5,"b":2.25,"p":14,"q":14},{"a":0.5,"b":0.5,"p":14,"q":0},{"a":2.25,"b":2.25,"p":14,"q":8},
{"a":1.5,"b":3,"p":8,"q":8},{"a":1.5,"b":1.5,"p":8,"q":0},{"a":3,"b":3,"p":8,"q":3},
{"a":2.5,"b":3.5,"p":3,"q":3},{"a":2.5,"b":2.5,"p":3,"q":0},{"a":3.5,"b":3.5,"p":3,"q":0},
{"a":4.5,"b":5.5,"p":2,"q":2},{"a":4.5,"b":4.5,"p":2,"q":0},{"a":5.5,"b":5.5,"p":2,"q":0}
],
"rowbars":[{"a":71.5,"p":36.5,"q":79},{"a":68,"p":20,"q":71},{"a":64,"p":18,"q":71},{"a":56,"p":49,"q":85},{"a":53,"p":49,"q":68},{"a":46,"p":60,"q":82},{"a":40,"p":88,"q":100},{"a":36,"p":78,"q":90},{"a":30,"p":60,"q":72},{"a":24,"p":60,"q":66},{"a":18,"p":62,"q":66},{"a":14,"p":82,"q":86}],
"rowtree":[
{"a":85.3,"b":2,"p":0.3,"q":0.3},{"a":85.3,"b":85.3,"p":0.3,"q":20.3},{"a":85.3,"b":76.7,"p":20.3,"q":20.3},
{"a":76.7,"b":2,"p":1.2,"q":1.2},{"a":76.7,"b":76.7,"p":1.2,"q":40},{"a":76.7,"b":73,"p":40,"q":40},
{"a":73,"b":2,"p":2.7,"q":2.7},{"a":73,"b":73,"p":2.7,"q":79.2},{"a":73,"b":71.7,"p":79.2,"q":79.2},
{"a":71.7,"b":71.7,"p":36.8,"q":121.7},{"a":71.7,"b":2,"p":121.7,"q":121.7},{"a":71.7,"b":70,"p":36.8,"q":36.8},
{"a":70,"b":70,"p":3.7,"q":36.8},{"a":70,"b":3,"p":3.7,"q":3.7},{"a":70,"b":66.7,"p":36.8,"q":36.8},
{"a":66.7,"b":3,"p":5.3,"q":5.3},{"a":66.7,"b":66.7,"p":5.3,"q":68},{"a":66.7,"b":65,"p":68,"q":68},
{"a":65,"b":65,"p":18,"q":70.8},{"a":65,"b":64,"p":70.8,"q":70.8},{"a":64,"b":64,"p":70.8,"q":120.4},{"a":64,"b":2,"p":120.4,"q":120.4},
{"a":65,"b":61.7,"p":18,"q":18},{"a":61.7,"b":61.7,"p":7,"q":28.7},{"a":61.7,"b":4,"p":7,"q":7},{"a":61.7,"b":59.3,"p":28.7,"q":28.7},
{"a":59.3,"b":59.3,"p":8.8,"q":73},{"a":59.3,"b":7,"p":8.8,"q":8.8},{"a":57.3,"b":57.3,"p":12.4,"q":76},{"a":57.3,"b":11,"p":12.4,"q":12.4},
{"a":55,"b":55,"p":18.9,"q":47.5},{"a":55,"b":11,"p":18.9,"q":18.9},
{"a":58,"b":58,"p":35,"q":85.4},{"a":58,"b":56.7,"p":85.4,"q":85.4},{"a":56.7,"b":56.7,"p":85.4,"q":119.3},{"a":56.7,"b":4,"p":119.3,"q":119.3},
{"a":52.3,"b":52.3,"p":47.5,"q":118},{"a":52.3,"b":4,"p":118.1,"q":118.1},
{"a":51.3,"b":51.3,"p":28.7,"q":68},{"a":51.3,"b":18.3,"p":28.7,"q":28.7},
{"a":50,"b":50,"p":37.8,"q":60},{"a":50,"b":11,"p":37.8,"q":37.8},
{"a":49,"b":49,"p":82.5,"q":99.2},{"a":47.3,"b":47.3,"p":82,"q":116},{"a":47.3,"b":8,"p":116,"q":116},
{"a":45,"b":45,"p":40.3,"q":62},{"a":45,"b":11,"p":40.3,"q":40.3},
{"a":42.7,"b":42.7,"p":44.5,"q":73},{"a":42.7,"b":7,"p":44.5,"q":44.5},
{"a":40.7,"b":40.7,"p":46.8,"q":73.5},{"a":40.7,"b":7,"p":46.8,"q":46.8},
{"a":40,"b":40,"p":88,"q":100.7},{"a":39.3,"b":39.3,"p":100.7,"q":112.8},{"a":39.3,"b":8,"p":112.8,"q":112.8},
{"a":37.7,"b":37.7,"p":68.7,"q":107.9},{"a":37.7,"b":13,"p":107.9,"q":107.9},
{"a":36.7,"b":36.7,"p":48.7,"q":65},{"a":36.7,"b":4,"p":48.7,"q":48.7},{"a":36,"b":36,"p":77.5,"q":90},
{"a":34,"b":34,"p":77.8,"q":101.4},{"a":34,"b":10,"p":101.4,"q":101.4},
{"a":32.7,"b":32.7,"p":60,"q":95.8},{"a":32.7,"b":18,"p":95.8,"q":95.8},
{"a":31.7,"b":31.7,"p":49.5,"q":62},{"a":31.7,"b":4,"p":49.5,"q":49.5},
{"a":29,"b":29,"p":65,"q":82.7},{"a":29,"b":15,"p":82.7,"q":82.7},
{"a":25,"b":25,"p":66.5,"q":77.9},{"a":25,"b":5,"p":77.9,"q":77.9},
{"a":22.3,"b":22.3,"p":50.9,"q":60},{"a":22.3,"b":12,"p":50.9,"q":50.9},
{"a":21,"b":21,"p":62,"q":76.4},{"a":21,"b":5,"p":76.4,"q":76.4},{"a":18,"b":18,"p":60,"q":73},{"a":18,"b":5,"p":73,"q":73},
{"a":7,"b":7,"p":8.2,"q":10.8},{"a":7,"b":3,"p":8.2,"q":8.2},{"a":7,"b":3,"p":10.8,"q":10.8},
{"a":11,"b":11,"p":11.5,"q":15.5},{"a":11,"b":3,"p":11.5,"q":11.5},{"a":11,"b":6,"p":15.5,"q":15.5},{"a":6,"b":6,"p":13.5,"q":16.5},{"a":6,"b":2,"p":13.5,"q":13.5},
{"a":10,"b":10,"p":17.3,"q":21},{"a":10,"b":3,"p":17.3,"q":17.3},{"a":10,"b":5,"p":21,"q":21},{"a":5,"b":5,"p":19,"q":22},{"a":5,"b":2,"p":19,"q":19},
{"a":18.3,"b":18.3,"p":25,"q":36},{"a":18.3,"b":10,"p":25,"q":25},{"a":18.3,"b":15,"p":36,"q":36},
{"a":10,"b":10,"p":23.3,"q":26},{"a":10,"b":3,"p":23.3,"q":23.3},{"a":10,"b":4,"p":26,"q":26},
{"a":15,"b":15,"p":27.5,"q":33},{"a":15,"b":8,"p":27.5,"q":27.5},{"a":15,"b":10,"p":33,"q":33},{"a":8,"b":8,"p":27,"q":30},{"a":8,"b":3,"p":27,"q":27},{"a":8,"b":3,"p":30,"q":30},{"a":10,"b":10,"p":31,"q":34},{"a":10,"b":3,"p":31,"q":31},{"a":10,"b":3,"p":34,"q":34},
{"a":10,"b":10,"p":34.5,"q":37.5},{"a":10,"b":3,"p":34.5,"q":34.5},{"a":10,"b":3,"p":37.5,"q":37.5},
{"a":11,"b":11,"p":39,"q":43},{"a":11,"b":3,"p":39,"q":39},{"a":11,"b":5,"p":43,"q":43},{"a":5,"b":5,"p":41,"q":44},{"a":5,"b":2,"p":41,"q":41},
{"a":7,"b":7,"p":44.2,"q":45.6},{"a":7,"b":2,"p":45.6,"q":45.6},{"a":7,"b":7,"p":46.5,"q":48.2},{"a":7,"b":2,"p":48.2,"q":48.2},
{"a":12,"b":12,"p":51.5,"q":55.5},{"a":12,"b":3,"p":51.5,"q":51.5},{"a":12,"b":5,"p":55.5,"q":55.5},{"a":5,"b":5,"p":53.5,"q":56.5},{"a":5,"b":2,"p":53.5,"q":53.5},
{"a":10,"b":10,"p":58,"q":62.5},{"a":10,"b":3,"p":58,"q":58},{"a":10,"b":5,"p":62.5,"q":62.5},{"a":5,"b":5,"p":60,"q":63},{"a":5,"b":2,"p":60,"q":60},
{"a":14,"b":14,"p":63.5,"q":70},{"a":14,"b":7,"p":63.5,"q":63.5},{"a":14,"b":9,"p":70,"q":70},{"a":7,"b":7,"p":62.5,"q":66},{"a":7,"b":3,"p":66,"q":66},
{"a":9,"b":9,"p":67,"q":72},{"a":9,"b":3,"p":67,"q":67},{"a":9,"b":4,"p":72,"q":72},{"a":4,"b":4,"p":70,"q":74},{"a":4,"b":2,"p":74,"q":74},
{"a":5,"b":5,"p":75.8,"q":77.3},{"a":5,"b":2,"p":75.8,"q":75.8},
{"a":15,"b":15,"p":79.5,"q":86},{"a":15,"b":9,"p":79.5,"q":79.5},{"a":15,"b":10,"p":86,"q":86},{"a":9,"b":9,"p":78.5,"q":82},{"a":9,"b":3,"p":82,"q":82},{"a":10,"b":10,"p":83,"q":88},{"a":10,"b":3,"p":83,"q":83},{"a":10,"b":4,"p":88,"q":88},
{"a":18,"b":18,"p":92,"q":97},{"a":18,"b":13,"p":92,"q":92},{"a":18,"b":9,"p":97,"q":97},{"a":13,"b":13,"p":90,"q":93.5},{"a":13,"b":3,"p":90,"q":90},{"a":13,"b":4,"p":93.5,"q":93.5},
{"a":9,"b":9,"p":95,"q":98.5},{"a":9,"b":3,"p":95,"q":95},{"a":9,"b":3,"p":98.5,"q":98.5},
{"a":9,"b":9,"p":100,"q":103.5},{"a":9,"b":3,"p":100,"q":100},{"a":9,"b":3,"p":103.5,"q":103.5},
{"a":13,"b":13,"p":105,"q":110},{"a":13,"b":5,"p":105,"q":105},{"a":13,"b":7,"p":110,"q":110},{"a":7,"b":7,"p":107,"q":111},{"a":7,"b":3,"p":107,"q":107},{"a":5,"b":5,"p":104,"q":107},
{"a":8,"b":8,"p":112,"q":114.5},{"a":8,"b":3,"p":112,"q":112},{"a":8,"b":3,"p":114.5,"q":114.5},{"a":6,"b":6,"p":117,"q":119},{"a":6,"b":2,"p":117,"q":117}
],
"marks":[{"fx":361,"fy":543,"fx2":361,"fy2":562},{"fx":361,"fy":564,"fx2":361,"fy2":579},{"fx":361,"fy":583,"fx2":361,"fy2":587}],
"links":[{"fx":416,"fy":181,"fx2":361.7,"fy2":543},{"fx":416,"fy":419,"fx2":361.7,"fy2":570},{"fx":416,"fy":552,"fx2":361.7,"fy2":583}],
"dots":[{"fx":416,"fy":181},{"fx":416,"fy":419},{"fx":416,"fy":552}],
"panelLetters":[{"label":"A","fx":11,"fy":16},{"label":"B","fx":405,"fy":16}],
"logLabel":[{"label":"log₂","fx":63,"fy":59}],
"groupsA":[{"g":"VATs","from":0.23,"to":3.66,"mid":2.06},{"g":"SATs","from":4.29,"to":5.72,"mid":5}],
"groupsB":[{"g":"VATs","from":0.36,"to":3.53,"mid":1.89},{"g":"SATs","from":4.36,"to":5.8,"mid":5.03}]
},
"resolve":{"scale":{"x":"independent","y":"independent","color":"independent","stroke":"independent"}},
"layer":[
{"data":{"name":"heat"},"mark":{"type":"rect","filled":false,"strokeWidth":1},"encoding":{
"x":{"field":"t","type":"nominal","axis":null,"scale":{"domain":["GOM","RAD","MAD","PAD","ILB","ULB"],"range":[100,356],"paddingInner":0,"paddingOuter":0}},
"y":{"field":"r","type":"ordinal","axis":null,"scale":{"range":[100,588],"paddingInner":0,"paddingOuter":0}},
"stroke":{"field":"v","type":"quantitative","legend":null,"scale":{"domain":[0,11,22.18],"range":["#00ff00","#000000","#ff0000"],"interpolate":"rgb"}}}},
{"data":{"name":"heat"},"mark":{"type":"rect"},"encoding":{
"x":{"field":"t","type":"nominal","axis":null,"scale":{"domain":["GOM","RAD","MAD","PAD","ILB","ULB"],"range":[100,356],"paddingInner":0,"paddingOuter":0}},
"y":{"field":"r","type":"ordinal","axis":null,"scale":{"range":[100,588],"paddingInner":0,"paddingOuter":0}},
"color":{"field":"v","type":"quantitative","scale":{"domain":[0,11,22.18],"range":["#00ff00","#000000","#ff0000"],"interpolate":"rgb"},
"legend":{"type":"gradient","orient":"none","legendX":101,"legendY":4,"direction":"horizontal","gradientLength":242,"gradientThickness":41,"values":[0,11,22.18],"title":null,"labelFontSize":1,"labelOpacity":0,"gradientStrokeWidth":0,"labelExpr":"''"}}}},
{"data":{"name":"scaleLabels"},"mark":{"type":"text","fontSize":15.5,"color":"#000"},"encoding":{"text":{"field":"txt"},
"x":{"field":"v","type":"quantitative","axis":null,"scale":{"domain":[0,22.18],"range":[104.5,339.5],"nice":false}},
"y":{"datum":60,"scale":{"domain":[0,657],"range":[0,657],"nice":false},"axis":null}}},
{"data":{"name":"rowbars"},"mark":{"type":"rule","color":"#8a8dd0","strokeWidth":2.5},"encoding":{
"x":{"field":"a","type":"quantitative","axis":null,"scale":{"domain":[0,100],"range":[100,0],"nice":false}},
"y":{"field":"p","type":"quantitative","axis":null,"scale":{"domain":[0,122],"range":[100,588],"nice":false}},"y2":{"field":"q"}}},
{"data":{"name":"rowtree"},"mark":{"type":"rule","color":"#3f43a0","strokeWidth":1},"encoding":{
"x":{"field":"a","type":"quantitative","axis":null,"scale":{"domain":[0,100],"range":[100,0],"nice":false}},"x2":{"field":"b"},
"y":{"field":"p","type":"quantitative","axis":null,"scale":{"domain":[0,122],"range":[100,588],"nice":false}},"y2":{"field":"q"}}},
{"data":{"values":[{"a":1.2,"p":0,"q":122},{"a":3.4,"p":0,"q":122}]},"mark":{"type":"rule","color":"#2f339a","strokeWidth":1.5,"strokeDash":[2,2]},"encoding":{
"x":{"field":"a","type":"quantitative","axis":null,"scale":{"domain":[0,100],"range":[100,0],"nice":false}},
"y":{"field":"p","type":"quantitative","axis":null,"scale":{"domain":[0,122],"range":[100,588],"nice":false}},"y2":{"field":"q"}}},
{"data":{"name":"coltree"},"mark":{"type":"rule","color":"#3f43a0","strokeWidth":1},"encoding":{
"x":{"field":"a","type":"quantitative","axis":null,"scale":{"domain":[0,6],"range":[100,356],"nice":false}},"x2":{"field":"b"},
"y":{"field":"p","type":"quantitative","axis":null,"scale":{"domain":[0,23],"range":[100,77],"nice":false}},"y2":{"field":"q"}}},
{"data":{"name":"tissues"},"mark":{"type":"rect"},"encoding":{
"x":{"field":"t","type":"nominal","scale":{"domain":["GOM","RAD","MAD","PAD","ILB","ULB"],"range":[99,355.5],"paddingInner":0.05,"paddingOuter":0},"axis":{"orient":"bottom","offset":-52,"labelFontSize":15.5,"labelPadding":0,"labelAngle":0,"labelBaseline":"top"}},
"y":{"datum":592.3,"scale":{"domain":[0,657],"range":[0,657],"nice":false},"axis":null},"y2":{"datum":600.7},
"color":{"field":"t","type":"nominal","legend":null,"scale":{"domain":["GOM","RAD","MAD","PAD","ILB","ULB"],"range":["#ff0000","#c4097a","#0000ff","#000070","#ffc800","#00c800"]}}}},
{"data":{"name":"groupsA"},"mark":{"type":"rule","color":"#000","strokeWidth":1.2},"encoding":{
"x":{"field":"from","type":"quantitative","axis":null,"scale":{"domain":[0,6],"range":[100,356],"nice":false}},"x2":{"field":"to"},
"y":{"datum":624.7,"scale":{"domain":[0,657],"range":[0,657],"nice":false},"axis":null}}},
{"data":{"name":"groupsA"},"mark":{"type":"text","fontSize":16,"color":"#000"},"encoding":{"text":{"field":"g"},
"x":{"field":"mid","type":"quantitative","axis":null,"scale":{"domain":[0,6],"range":[100,356],"nice":false}},
"y":{"datum":638,"scale":{"domain":[0,657],"range":[0,657],"nice":false},"axis":null}}},
{"data":{"name":"groupsB"},"mark":{"type":"rule","color":"#000","strokeWidth":1.2},"encoding":{
"x":{"field":"from","type":"quantitative","axis":null,"scale":{"domain":[0,6],"range":[419,565],"nice":false}},"x2":{"field":"to"},
"y":{"datum":632.3,"scale":{"domain":[0,657],"range":[0,657],"nice":false},"axis":null}}},
{"data":{"name":"groupsB"},"mark":{"type":"text","fontSize":16,"color":"#000"},"encoding":{"text":{"field":"g"},
"x":{"field":"mid","type":"quantitative","axis":null,"scale":{"domain":[0,6],"range":[419,565],"nice":false}},
"y":{"datum":647,"scale":{"domain":[0,657],"range":[0,657],"nice":false},"axis":null}}},
{"data":{"name":"b1"},"mark":{"type":"rect","stroke":"#000","strokeWidth":1},"encoding":{
"x":{"field":"t","type":"nominal","axis":null,"scale":{"domain":["GOM","RAD","MAD","PAD","ILB","ULB"],"range":[419,565],"paddingInner":0,"paddingOuter":0}},
"y":{"field":"m","type":"nominal","sort":null,"scale":{"range":[20,284],"paddingInner":0,"paddingOuter":0},"axis":{"orient":"right","offset":-132,"labelFontSize":15.5,"labelPadding":0,"labelAlign":"left"}},
"color":{"field":"v","type":"quantitative","legend":null,"scale":{"domain":[0,11,22.18],"range":["#00ff00","#000000","#ff0000"],"interpolate":"rgb"}}}},
{"data":{"name":"b2"},"mark":{"type":"rect","stroke":"#000","strokeWidth":1},"encoding":{
"x":{"field":"t","type":"nominal","axis":null,"scale":{"domain":["GOM","RAD","MAD","PAD","ILB","ULB"],"range":[419,565],"paddingInner":0,"paddingOuter":0}},
"y":{"field":"m","type":"nominal","sort":null,"scale":{"range":[289,507],"paddingInner":0,"paddingOuter":0},"axis":{"orient":"right","offset":-132,"labelFontSize":15.5,"labelPadding":0,"labelAlign":"left"}},
"color":{"field":"v","type":"quantitative","legend":null,"scale":{"domain":[0,11,22.18],"range":["#00ff00","#000000","#ff0000"],"interpolate":"rgb"}}}},
{"data":{"name":"b3"},"mark":{"type":"rect","stroke":"#000","strokeWidth":1},"encoding":{
"x":{"field":"t","type":"nominal","scale":{"domain":["GOM","RAD","MAD","PAD","ILB","ULB"],"range":[419,565],"paddingInner":0,"paddingOuter":0},"axis":{"orient":"bottom","offset":-67,"labelFontSize":15.5,"labelPadding":2,"labelAngle":-90,"labelAlign":"right","labelBaseline":"middle"}},
"y":{"field":"m","type":"nominal","sort":null,"scale":{"range":[512,586],"paddingInner":0,"paddingOuter":0},"axis":{"orient":"right","offset":-132,"labelFontSize":15.5,"labelPadding":0,"labelAlign":"left"}},
"color":{"field":"v","type":"quantitative","legend":null,"scale":{"domain":[0,11,22.18],"range":["#00ff00","#000000","#ff0000"],"interpolate":"rgb"}}}},
{"data":{"name":"star1"},"mark":{"type":"point","filled":true,"opacity":1,"size":75,"shape":"M0,-1L0.235,-0.324L0.951,-0.309L0.38,0.124L0.588,0.809L0,0.412L-0.588,0.809L-0.38,0.124L-0.951,-0.309L-0.235,-0.324Z"},"encoding":{
"x":{"field":"sx","type":"quantitative","axis":null,"scale":{"domain":[0,714],"range":[0,714],"nice":false}},
"y":{"field":"m","type":"nominal","axis":null,"scale":{"domain":["miR-20-5p","miR-378-1-5p","miR-185-5p","miR-181d-5p","miR-17-5p","miR-19a-3p","miR-708-5p","miR-28-5p","miR-95-3p","miR-1271-5p","miR-181b-1/2-5p"],"range":[20,284],"type":"point","padding":0.5}},
"color":{"field":"c","type":"nominal","legend":null,"scale":{"domain":["red","blue"],"range":["#e8141c","#1a2fd0"]}}}},
{"data":{"name":"star2"},"mark":{"type":"point","filled":true,"opacity":1,"size":75,"shape":"M0,-1L0.235,-0.324L0.951,-0.309L0.38,0.124L0.588,0.809L0,0.412L-0.588,0.809L-0.38,0.124L-0.951,-0.309L-0.235,-0.324Z"},"encoding":{
"x":{"field":"sx","type":"quantitative","axis":null,"scale":{"domain":[0,714],"range":[0,714],"nice":false}},
"y":{"field":"m","type":"nominal","axis":null,"scale":{"domain":["miR-1468-5p","miR-374a-5p","miR-148b-3p","miR-374a-3p","miR-19b-1/2-3p","miR-181a-1/2-5p","miR-16-1-5p","miR-92a-1/2-3p","miR-1-3p"],"range":[289,507],"type":"point","padding":0.5}},
"color":{"field":"c","type":"nominal","legend":null,"scale":{"domain":["red","blue"],"range":["#e8141c","#1a2fd0"]}}}},
{"data":{"name":"marks"},"mark":{"type":"rule","color":"#000","strokeWidth":3},"encoding":{
"x":{"field":"fx","type":"quantitative","axis":null,"scale":{"domain":[0,714],"range":[0,714],"nice":false}},"x2":{"field":"fx2"},
"y":{"field":"fy","type":"quantitative","axis":null,"scale":{"domain":[0,657],"range":[0,657],"nice":false}},"y2":{"field":"fy2"}}},
{"data":{"name":"links"},"mark":{"type":"rule","color":"#000","strokeWidth":1.5,"strokeDash":[6,4]},"encoding":{
"x":{"field":"fx","type":"quantitative","axis":null,"scale":{"domain":[0,714],"range":[0,714],"nice":false}},"x2":{"field":"fx2"},
"y":{"field":"fy","type":"quantitative","axis":null,"scale":{"domain":[0,657],"range":[0,657],"nice":false}},"y2":{"field":"fy2"}}},
{"data":{"name":"dots"},"mark":{"type":"point","filled":true,"opacity":1,"color":"#000","size":64,"shape":"circle"},"encoding":{
"x":{"field":"fx","type":"quantitative","axis":null,"scale":{"domain":[0,714],"range":[0,714],"nice":false}},
"y":{"field":"fy","type":"quantitative","axis":null,"scale":{"domain":[0,657],"range":[0,657],"nice":false}}}},
{"data":{"name":"panelLetters"},"mark":{"type":"text","fontSize":20,"fontWeight":"bold","color":"#000"},"encoding":{"text":{"field":"label"},
"x":{"field":"fx","type":"quantitative","axis":null,"scale":{"domain":[0,714],"range":[0,714],"nice":false}},
"y":{"field":"fy","type":"quantitative","axis":null,"scale":{"domain":[0,657],"range":[0,657],"nice":false}}}},
{"data":{"name":"logLabel"},"mark":{"type":"text","fontSize":15,"color":"#000"},"encoding":{"text":{"field":"label"},
"x":{"field":"fx","type":"quantitative","axis":null,"scale":{"domain":[0,714],"range":[0,714],"nice":false}},
"y":{"field":"fy","type":"quantitative","axis":null,"scale":{"domain":[0,657],"range":[0,657],"nice":false}}}}
]}
